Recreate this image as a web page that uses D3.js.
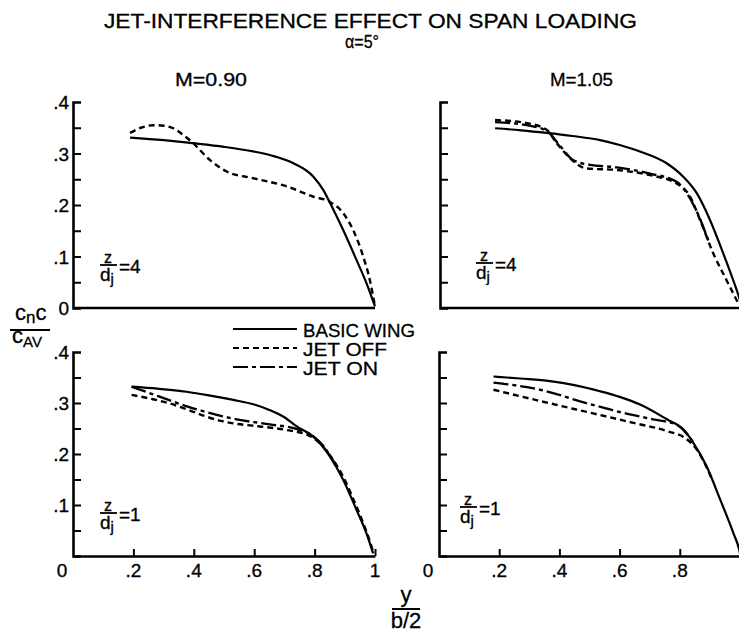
<!DOCTYPE html>
<html>
<head>
<meta charset="utf-8">
<script src="https://cdn.jsdelivr.net/npm/d3@7"></script>
<style>
  body { margin: 0; background: #fff; }
  svg { display: block; }
  text { font-family: "Liberation Sans", Arial, sans-serif; fill: #000; stroke: #000; stroke-width: 0.3px; }
</style>
</head>
<body>
<div id="chart"></div>
<script>
// span loading values: [y/(b/2), cnc/cAV]
const m090z4Basic = [[0.189,0.331],[0.30,0.326],[0.398,0.320],[0.50,0.313],[0.597,0.304],[0.67,0.294],[0.730,0.281],[0.796,0.255],[0.829,0.229],[0.857,0.197],[0.895,0.151],[0.939,0.093],[0.972,0.048],[1.0,0.003]]
const m090z4JetOff = [[0.189,0.340],[0.225,0.350],[0.266,0.355],[0.300,0.354],[0.332,0.349],[0.365,0.336],[0.398,0.320],[0.454,0.287],[0.509,0.265],[0.597,0.252],[0.708,0.236],[0.796,0.216],[0.851,0.206],[0.895,0.184],[0.928,0.151],[0.961,0.100],[0.983,0.054],[1.0,0.003]]

const m105z4Basic = [[0.183,0.349],[0.27,0.345],[0.354,0.340],[0.44,0.334],[0.532,0.326],[0.600,0.316],[0.664,0.304],[0.753,0.281],[0.808,0.255],[0.853,0.223],[0.897,0.171],[0.941,0.106],[0.974,0.054],[0.993,0.022],[1.0,0.008]]
const m105z4JetOff = [[0.183,0.365],[0.288,0.359],[0.354,0.346],[0.388,0.320],[0.432,0.291],[0.487,0.271],[0.587,0.268],[0.698,0.258],[0.786,0.242],[0.831,0.216],[0.864,0.171],[0.908,0.106],[0.952,0.054],[0.991,0.009]]
const m105z4JetOn = [[0.183,0.361],[0.288,0.355],[0.354,0.344],[0.400,0.314],[0.443,0.287],[0.498,0.278],[0.587,0.273],[0.698,0.261],[0.786,0.245],[0.820,0.223],[0.855,0.185],[0.895,0.125]]

const m090z1Basic = [[0.194,0.332],[0.28,0.328],[0.376,0.322],[0.45,0.315],[0.531,0.306],[0.600,0.297],[0.652,0.286],[0.700,0.272],[0.741,0.254],[0.796,0.234],[0.851,0.195],[0.895,0.149],[0.939,0.090],[0.972,0.044],[0.994,0.005]]
const m090z1JetOff = [[0.194,0.316],[0.260,0.308],[0.321,0.299],[0.380,0.287],[0.443,0.273],[0.490,0.265],[0.531,0.260],[0.619,0.254],[0.708,0.247],[0.774,0.238],[0.800,0.230],[0.851,0.197],[0.895,0.155],[0.928,0.112],[0.960,0.066],[0.985,0.025],[0.996,0.004]]
const m090z1JetOn = [[0.194,0.332],[0.260,0.318],[0.321,0.305],[0.380,0.293],[0.443,0.282],[0.542,0.268],[0.652,0.258],[0.741,0.249],[0.790,0.237],[0.830,0.215],[0.870,0.178]]

const m105z1Basic = [[0.181,0.352],[0.27,0.348],[0.369,0.343],[0.45,0.335],[0.535,0.323],[0.600,0.312],[0.668,0.297],[0.757,0.268],[0.812,0.248],[0.845,0.222],[0.889,0.176],[0.934,0.111],[0.978,0.045],[0.997,0.013],[1.0,0.005]]
const m105z1JetOff = [[0.181,0.326],[0.314,0.307],[0.400,0.295],[0.480,0.284],[0.560,0.273],[0.646,0.261],[0.757,0.245],[0.823,0.229],[0.856,0.209],[0.889,0.174],[0.910,0.146]]
const m105z1JetOn = [[0.181,0.340],[0.260,0.334],[0.336,0.326],[0.400,0.316],[0.446,0.307],[0.520,0.295],[0.589,0.284],[0.711,0.268],[0.787,0.258],[0.820,0.242],[0.850,0.218]]

const yTickLabels = [".1", ".2", ".3", ".4"]
const xTickLabels = [".2", ".4", ".6", ".8", "1"]
const legendNames = ["BASIC WING", "JET OFF", "JET ON"]

const svg = d3.select("#chart").append("svg")
  .attr("width", 739)
  .attr("height", 633)

svg.append("rect").attr("width", 739).attr("height", 633).attr("fill", "white")

const dash = { basic: null, off: "6,4", on: "15,4,4,4" }

const panels = [
  { left: 73, right: 375, top: 102, bottom: 308, yLabels: true, xLabels: 0, z: "4", ax: 27, ay: -43,
    series: [[m090z4Basic, "basic"], [m090z4JetOff, "off"]] },
  { left: 440, right: 741, top: 102, bottom: 308, yLabels: false, xLabels: 0, z: "4", ax: 36, ay: -45,
    series: [[m105z4Basic, "basic"], [m105z4JetOff, "off"], [m105z4JetOn, "on"]] },
  { left: 73, right: 375, top: 352, bottom: 556, yLabels: true, xLabels: 5, z: "1", ax: 27, ay: -43,
    series: [[m090z1Basic, "basic"], [m090z1JetOff, "off"], [m090z1JetOn, "on"]] },
  { left: 439, right: 740, top: 352, bottom: 556, yLabels: false, xLabels: 4, z: "1", ax: 21, ay: -49,
    series: [[m105z1Basic, "basic"], [m105z1JetOff, "off"], [m105z1JetOn, "on"]] }
]

panels.forEach(p => {
  const x = d3.scaleLinear().domain([0, 1]).range([p.left, p.right])
  const y = d3.scaleLinear().domain([0, 0.4]).range([p.bottom, p.top])
  const g = svg.append("g")

  // y axis with inward ticks every .05
  const yAxis = g.append("g")
    .attr("transform", `translate(${p.left},0)`)
    .call(d3.axisRight(y).tickValues(d3.range(0.05, 0.4, 0.05)).tickSize(8).tickSizeOuter(8).tickFormat(""))
  yAxis.select(".domain").attr("stroke-width", 2.6)
  yAxis.selectAll(".tick line").attr("stroke-width", 2)

  // x axis
  if (p.xLabels) {
    const xAxis = g.append("g")
      .attr("transform", `translate(0,${p.bottom})`)
      .call(d3.axisTop(x).tickValues([0.2, 0.4, 0.6, 0.8, 1]).tickSize(7).tickSizeOuter(0).tickFormat(""))
    xAxis.select(".domain").attr("stroke-width", 2.6)
    xAxis.selectAll(".tick line").attr("stroke-width", 2)
  } else {
    g.append("line")
      .attr("x1", x(0)).attr("x2", x(1))
      .attr("y1", y(0)).attr("y2", y(0))
      .attr("stroke", "black").attr("stroke-width", 2.6)
  }

  if (p.yLabels) {
    yTickLabels.forEach((t, i) => {
      g.append("text")
        .attr("x", p.left - 4).attr("y", y((i + 1) / 10) + 7)
        .attr("text-anchor", "end")
        .attr("font-size", 19)
        .text(t)
    })
  }
  if (p.xLabels) {
    xTickLabels.slice(0, p.xLabels).forEach((t, i) => {
      g.append("text")
        .attr("x", x((i + 1) / 5)).attr("y", p.bottom + 21)
        .attr("text-anchor", "middle")
        .attr("font-size", 19)
        .text(t)
    })
    g.append("text")
      .attr("x", p.left - 11).attr("y", p.bottom + 21)
      .attr("text-anchor", "middle")
      .attr("font-size", 19)
      .text("0")
  } else if (p.yLabels) {
    g.append("text")
      .attr("x", p.left - 4).attr("y", p.bottom + 7)
      .attr("text-anchor", "end")
      .attr("font-size", 19)
      .text("0")
  }

  p.series.forEach(([data, kind]) => {
    g.append("path")
      .datum(data)
      .attr("d", d3.line()
        .x(d => x(d[0]))
        .y(d => y(d[1]))
        .curve(d3.curveMonotoneX))
      .attr("fill", "none")
      .attr("stroke", "black")
      .attr("stroke-width", kind == "basic" ? 2.2 : 2.4)
      .attr("stroke-dasharray", dash[kind])
  })

  // z / dj annotation
  const ax = p.left + p.ax, ay = p.bottom + p.ay
  g.append("text").attr("x", ax + 8).attr("y", ay - 2).attr("text-anchor", "middle").attr("font-size", 16).text("z")
  g.append("line").attr("x1", ax).attr("x2", ax + 17).attr("y1", ay).attr("y2", ay)
    .attr("stroke", "black").attr("stroke-width", 1.8)
  const dj = g.append("text").attr("x", ax).attr("y", ay + 16).attr("font-size", 19)
  dj.append("tspan").text("d")
  dj.append("tspan").attr("font-size", 15).attr("dy", 3).text("j")
  g.append("text").attr("x", ax + 19).attr("y", ay + 8).attr("font-size", 19).text("=" + p.z)
})

// titles
svg.append("text")
  .attr("x", 104).attr("y", 28)
  .attr("font-size", 21)
  .attr("textLength", 533).attr("lengthAdjust", "spacingAndGlyphs")
  .text("JET-INTERFERENCE  EFFECT  ON  SPAN  LOADING")
svg.append("text")
  .attr("x", 345).attr("y", 48)
  .attr("font-size", 18)
  .attr("textLength", 34).attr("lengthAdjust", "spacingAndGlyphs")
  .text("α=5°")
svg.append("text")
  .attr("x", 175).attr("y", 86)
  .attr("font-size", 18)
  .attr("textLength", 72).attr("lengthAdjust", "spacingAndGlyphs")
  .text("M=0.90")
svg.append("text")
  .attr("x", 550).attr("y", 86)
  .attr("font-size", 18)
  .attr("textLength", 63).attr("lengthAdjust", "spacingAndGlyphs")
  .text("M=1.05")

// y axis label cnc / cAV
const num = svg.append("text").attr("x", 15).attr("y", 320).attr("font-size", 22)
num.append("tspan").text("c")
num.append("tspan").attr("font-size", 17).attr("dy", 3).text("n")
num.append("tspan").attr("dy", -3).text("c")
svg.append("line").attr("x1", 10).attr("x2", 50).attr("y1", 330).attr("y2", 330)
  .attr("stroke", "black").attr("stroke-width", 2)
const den = svg.append("text").attr("x", 12).attr("y", 343).attr("font-size", 22)
den.append("tspan").text("c")
den.append("tspan").attr("font-size", 15).attr("dy", 4).text("AV")

// x axis label y / (b/2)
svg.append("text").attr("x", 406).attr("y", 602).attr("text-anchor", "middle").attr("font-size", 22).text("y")
svg.append("line").attr("x1", 392).attr("x2", 420).attr("y1", 609).attr("y2", 609)
  .attr("stroke", "black").attr("stroke-width", 2)
svg.append("text").attr("x", 406).attr("y", 628).attr("text-anchor", "middle").attr("font-size", 22).text("b/2")

// legend
const legend = svg.append("g")
const legendKinds = ["basic", "off", "on"]
const legendWidths = [112, 84, 75]
legendNames.forEach((name, i) => {
  const ly = 329 + i * 19
  legend.append("line")
    .attr("x1", 233).attr("x2", 297).attr("y1", ly).attr("y2", ly)
    .attr("stroke", "black").attr("stroke-width", 2)
    .attr("stroke-dasharray", dash[legendKinds[i]])
  legend.append("text")
    .attr("x", 303).attr("y", ly + 8)
    .attr("font-size", 19)
    .attr("textLength", legendWidths[i]).attr("lengthAdjust", "spacingAndGlyphs")
    .text(name)
})
</script>
</body>
</html>
